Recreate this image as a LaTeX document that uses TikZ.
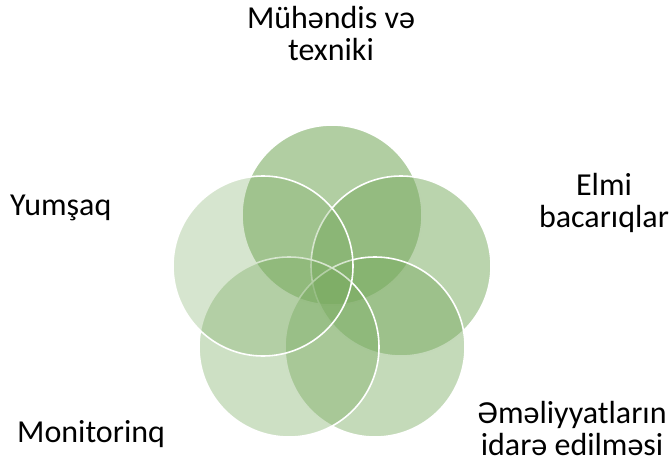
\documentclass[tikz,border=0pt]{standalone}
\usepackage{fontspec}
\setmainfont{Carlito}
\usetikzlibrary{positioning,calc}
\definecolor{leafgreen}{RGB}{120,170,95}
\begin{document}
\begin{tikzpicture}
[x=1pt,y=-1pt,
petal/.style={shape=circle,minimum size=180pt,inner sep=0pt,draw=white,line width=1.6pt,fill=leafgreen},
lbl/.style={font=\fontsize{32}{32}\selectfont,align=center,inner sep=0pt,text=black}]
%
\useasboundingbox (0,0) rectangle (669,466);
%
\node (muh) [petal,fill opacity=.58] at (332,215) {};
\node (elm) [petal,fill opacity=.51] at (401,266) {};
\node (eml) [petal,fill opacity=.44] at (375,347) {};
\node (mon) [petal,fill opacity=.37] at (289,347) {};
\node (yum) [petal,fill opacity=.30] at (263,266) {};
%
\node (tmuh) [lbl] at (331,34) {Mühəndis və\\texniki};
\node (telm) [lbl] at (604,203) {Elmi\\bacarıqlar};
\node (tyum) [lbl,anchor=base west] at (10,215) {Yumşaq};
\node (tmon) [lbl,anchor=base west] at (17,442) {Monitorinq};
\node (teml) [lbl] at (572,429) {Əməliyyatların\\idarə edilməsi};
\end{tikzpicture}
\end{document}
